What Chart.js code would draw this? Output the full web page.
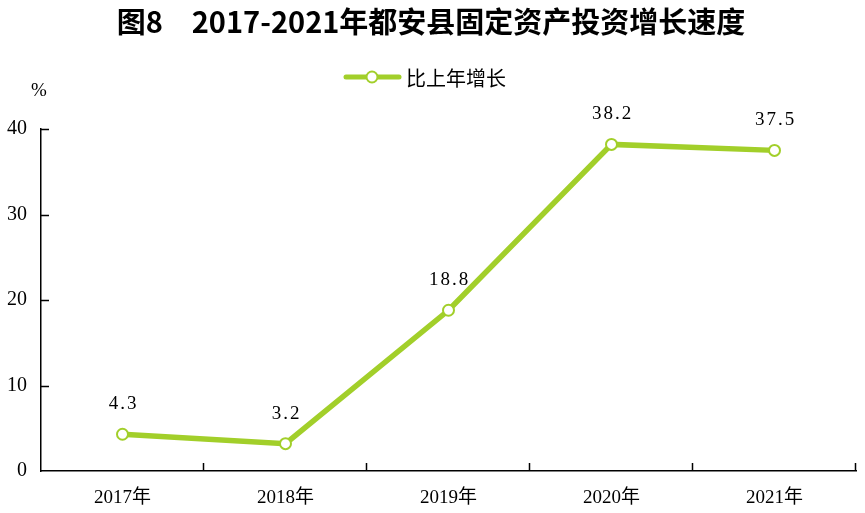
<!DOCTYPE html>
<html>
<head>
<meta charset="utf-8">
<script src="https://cdn.jsdelivr.net/npm/chart.js@4"></script>
<style>
html,body{margin:0;padding:0;background:#fff;}
#wrap{width:865px;height:513px;position:relative;}
</style>
</head>
<body>
<div id="wrap"><canvas id="c" width="865" height="513"></canvas></div>
<script>
const categories = ['2017年', '2018年', '2019年', '2020年', '2021年'];
const growth = [4.3, 3.2, 18.8, 38.2, 37.5];
const growthLabels = ['4.3', '3.2', '18.8', '38.2', '37.5'];
const yTicks = [0, 10, 20, 30, 40];
const seriesName = '比上年增长';
const titleText = '图8　2017-2021年都安县固定资产投资增长速度';
const unitText = '%';

const GREEN = '#a2cf2a';
const SERIF = '"Liberation Serif", "Noto Sans CJK SC", serif';
const CJK = '"Noto Sans CJK SC", sans-serif';

const decor = {
  id: 'decor',
  afterDraw(chart) {
    const ctx = chart.ctx;
    const xs = chart.scales.x, ys = chart.scales.y;
    ctx.save();
    // title
    ctx.fillStyle = '#000';
    ctx.font = 'bold 29px ' + CJK;
    ctx.textAlign = 'center';
    ctx.textBaseline = 'middle';
    ctx.fillText(titleText, 431, 22);
    // legend
    ctx.strokeStyle = GREEN;
    ctx.lineWidth = 5;
    ctx.lineCap = 'round';
    ctx.beginPath(); ctx.moveTo(346, 77); ctx.lineTo(399, 77); ctx.stroke();
    ctx.beginPath(); ctx.arc(372, 77, 5.5, 0, Math.PI * 2);
    ctx.fillStyle = '#fff'; ctx.fill();
    ctx.lineWidth = 2; ctx.stroke();
    ctx.fillStyle = '#000';
    ctx.font = '20px ' + CJK;
    ctx.textAlign = 'left';
    ctx.fillText(seriesName, 406, 78);
    // unit
    ctx.font = '19px ' + SERIF;
    ctx.textAlign = 'center';
    ctx.fillText(unitText, 39, 91);
    // inward ticks
    ctx.strokeStyle = '#000';
    ctx.lineWidth = 1.5;
    ctx.lineCap = 'butt';
    const n = categories.length;
    const w = (xs.right - xs.left) / n;
    ctx.beginPath();
    for (let i = 1; i <= n; i++) {
      const x = Math.round(xs.left + i * w) - 0.5;
      ctx.moveTo(x, ys.bottom); ctx.lineTo(x, ys.bottom - 8);
    }
    yTicks.forEach(v => {
      if (v === 0) return;
      const y = Math.round(ys.getPixelForValue(v)) + 0.5;
      ctx.moveTo(xs.left, y); ctx.lineTo(xs.left + 8, y);
    });
    ctx.stroke();
    // data labels
    const meta = chart.getDatasetMeta(0);
    ctx.fillStyle = '#000';
    ctx.font = '19px ' + SERIF;
    ctx.letterSpacing = '2px';
    ctx.textAlign = 'center';
    ctx.textBaseline = 'middle';
    meta.data.forEach((pt, i) => {
      ctx.fillText(growthLabels[i], pt.x + 1, pt.y - 30);
    });
    ctx.restore();
  }
};

new Chart(document.getElementById('c'), {
  type: 'line',
  data: {
    labels: categories,
    datasets: [{
      label: seriesName,
      data: growth,
      borderColor: GREEN,
      borderWidth: 5.5,
      pointRadius: 5.5,
      pointBorderWidth: 2,
      pointBackgroundColor: '#fff',
      pointBorderColor: GREEN,
      tension: 0,
      clip: false
    }]
  },
  options: {
    responsive: false,
    animation: false,
    devicePixelRatio: 1,
    layout: { padding: { top: 129, right: 9, bottom: 0, left: 0 } },
    plugins: { legend: { display: false }, title: { display: false }, tooltip: { enabled: false } },
    scales: {
      x: {
        type: 'category',
        offset: true,
        grid: { display: false, drawTicks: false },
        border: { display: true, color: '#000', width: 1.5 },
        ticks: { color: '#000', font: { family: SERIF, size: 19 }, padding: 16, maxRotation: 0 },
        afterFit(s) { s.height = 42; }
      },
      y: {
        min: 0, max: 40,
        afterBuildTicks(s) { s.ticks = yTicks.map(v => ({ value: v })); },
        grid: { display: false, drawTicks: false },
        border: { display: true, color: '#000', width: 1.5 },
        ticks: { color: '#000', font: { family: SERIF, size: 20 }, padding: 14 },
        afterFit(s) { s.width = 41; }
      }
    }
  },
  plugins: [decor]
});
</script>
</body>
</html>
